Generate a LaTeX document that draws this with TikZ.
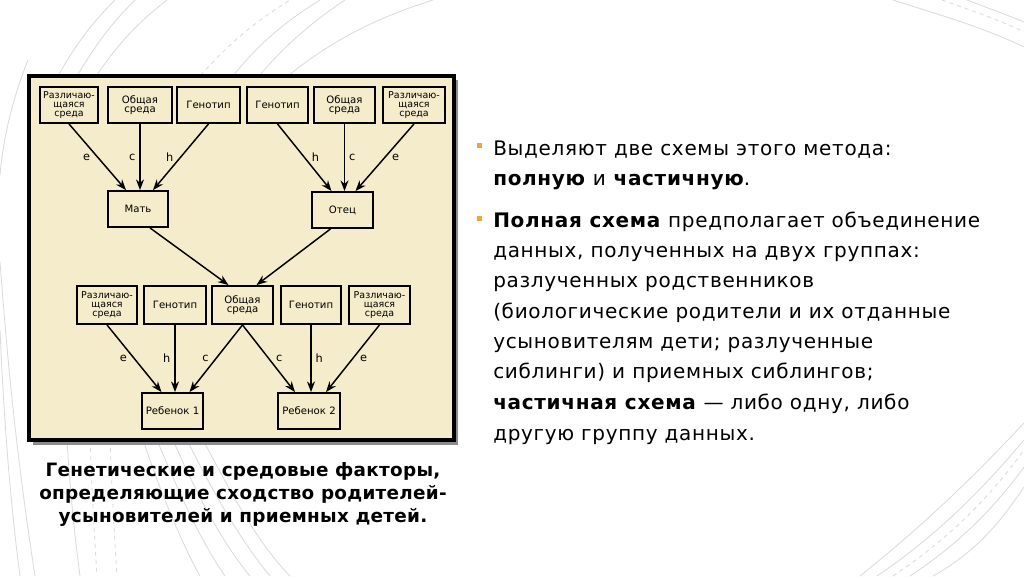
\documentclass[tikz,border=0pt]{standalone}
\usepackage{fontspec}
\setmainfont{DejaVu Sans}
\newfontfamily\bodyfont[LetterSpace=3.4]{DejaVu Sans}
\newfontfamily\capfont[LetterSpace=1.5]{DejaVu Sans}
\usetikzlibrary{arrows.meta,calc}
\definecolor{cream}{RGB}{245,236,203}
\definecolor{bulcol}{RGB}{242,163,60}
\definecolor{decocol}{RGB}{218,218,218}
\begin{document}
\begin{tikzpicture}[x=0.75pt,y=-0.75pt,
  deco/.style={draw=decocol,line width=0.6pt},
  dbox/.style={draw=black,line width=1.4pt,fill=cream,inner sep=0pt,align=center,
     font=\fontsize{7.6pt}{7.1pt}\selectfont,minimum height=27pt},
  tbox/.style={dbox,font=\fontsize{7.1pt}{7.1pt}\selectfont},
  arr/.style={line width=1.1pt,-{Stealth[length=8pt,width=6pt]}},
  lab/.style={font=\fontsize{8.5pt}{8.5pt}\selectfont,inner sep=2pt},
  bodytxt/.style={anchor=base west,inner sep=0pt,font=\fontsize{15pt}{17pt}\bodyfont},
  captxt/.style={anchor=base,inner sep=0pt,font=\fontsize{13.8pt}{15pt}\capfont\bfseries},
  bullet/.style={fill=bulcol,draw=none}
]
\useasboundingbox (0,0) rectangle (1024,576);
\fill[white] (0,0) rectangle (1024,576);

% background decoration arcs
\draw[deco] (40,110) .. controls (70,50) and (90,25) .. (115,0);
\draw[deco] (58,110) .. controls (90,50) and (110,25) .. (135,0);
\draw[deco] (75,110) .. controls (110,50) and (135,25) .. (167,0);
\draw[deco,dashed] (180,100) .. controls (220,50) and (250,25) .. (290,0);
\draw[deco] (215,100) .. controls (250,50) and (280,25) .. (320,0);
\draw[deco] (240,100) .. controls (270,60) and (300,30) .. (345,0);
\draw[deco] (260,100) .. controls (320,45) and (370,20) .. (433,0);
\draw[deco] (893,0) .. controls (940,15) and (985,28) .. (1024,47);
\draw[deco,dashed] (942,0) .. controls (970,10) and (1000,20) .. (1024,32);
\draw[deco] (967,0) .. controls (985,7) and (1005,14) .. (1024,22);
\draw[deco] (860,576) .. controls (930,520) and (980,470) .. (1024,423);
\draw[deco] (877,576) .. controls (945,530) and (990,480) .. (1024,440);
\draw[deco,dashed] (893,576) .. controls (955,535) and (995,490) .. (1024,450);
\draw[deco] (910,576) .. controls (965,540) and (1000,500) .. (1024,467);
\draw[deco] (933,576) .. controls (980,550) and (1005,515) .. (1024,487);
\draw[deco] (28,60) .. controls (12,100) and (3,140) .. (0,175);
\draw[deco] (0,262) .. controls (6,340) and (14,440) .. (35,576);
\draw[deco] (0,330) .. controls (4,420) and (10,500) .. (20,576);
\draw[deco] (67,440) .. controls (70,490) and (74,530) .. (80,576);
\draw[deco,dashed] (90,440) .. controls (92,490) and (94,530) .. (97,576);
\draw[deco,dashed] (110,440) .. controls (112,490) and (114,530) .. (117,576);
\draw[deco] (143,440) .. controls (160,490) and (180,540) .. (200,576);
\draw[deco] (157,440) .. controls (178,490) and (200,540) .. (225,576);
\draw[deco] (173,440) .. controls (195,490) and (220,540) .. (250,576);
\draw[deco] (187,440) .. controls (212,490) and (240,540) .. (270,576);
\draw[deco] (203,440) .. controls (230,490) and (255,540) .. (290,576);

% frame with shadow
\fill[black!45] (33,80) rectangle (458,445);
\filldraw[fill=cream,draw=black,line width=2.8pt] (29,76) rectangle (454,440);

% top row
\node[tbox,minimum width=43.5pt] (b1) at (69,105) {Различаю-\\щаяся\\среда};
\node[dbox,minimum width=48pt] (b2) at (140,105) {Общая\\среда};
\node[dbox,minimum width=47pt] (b3) at (208.5,105) {Генотип};
\node[dbox,minimum width=46pt] (b4) at (277.5,105) {Генотип};
\node[dbox,minimum width=46pt] (b5) at (344.5,105) {Общая\\среда};
\node[tbox,minimum width=46.5pt] (b6) at (414,105) {Различаю-\\щаяся\\среда};
% parents
\node[dbox,minimum width=45pt] (m) at (138,209) {Мать};
\node[dbox,minimum width=46pt] (f) at (342.5,210) {Отец};
% third row
\node[tbox,minimum width=45pt,minimum height=28.5pt] (r1) at (107,305) {Различаю-\\щаяся\\среда};
\node[dbox,minimum width=46.5pt,minimum height=28.5pt] (r2) at (175,305) {Генотип};
\node[dbox,minimum width=46pt,minimum height=28.5pt] (r3) at (242.5,305) {Общая\\среда};
\node[dbox,minimum width=45pt,minimum height=28.5pt] (r4) at (311,305) {Генотип};
\node[tbox,minimum width=46pt,minimum height=28.5pt] (r5) at (379.5,305) {Различаю-\\щаяся\\среда};
% children
\node[dbox,minimum width=46pt] (c1) at (172.5,411) {Ребенок 1};
\node[dbox,minimum width=46.5pt] (c2) at (309,411) {Ребенок 2};

% arrows to mother
\draw[arr] (b1.south) -- node[lab,left=3pt] {e} ($(m.north)+(-12,0)$);
\draw[arr] (b2.south) -- node[lab,left=1pt] {c} (b2.south |- m.north);
\draw[arr] (b3.south) -- node[lab,left=3pt] {h} ($(m.north)+(15,0)$);
% arrows to father
\draw[arr] (b4.south) -- node[lab,right=3pt] {h} ($(f.north)+(-11,0)$);
\draw[arr] (b5.south) -- node[lab,right=1pt] {c} (b5.south |- f.north);
\draw[arr] (b6.south) -- node[lab,right=3pt] {e} ($(f.north)+(13,0)$);
% parents to shared environment
\draw[arr] ($(m.south)+(12,0)$) -- ($(r3.north)+(-14,0)$);
\draw[arr] ($(f.south)+(-12,0)$) -- ($(r3.north)+(14,0)$);
% to child 1
\draw[arr] (r1.south) -- node[lab,left=3pt] {e} ($(c1.north)+(-11,0)$);
\draw[arr] (r2.south) -- node[lab,left=1pt] {h} (r2.south |- c1.north);
\draw[arr] (r3.south) -- node[lab,left=3pt] {c} ($(c1.north)+(17,0)$);
% to child 2
\draw[arr] (r3.south) -- node[lab,right=3pt] {c} ($(c2.north)+(-14,0)$);
\draw[arr] (r4.south) -- node[lab,right=1pt] {h} (r4.south |- c2.north);
\draw[arr] (r5.south) -- node[lab,right=3pt] {e} ($(c2.north)+(17,0)$);

% caption
\node[captxt] (cap1) at (243,476) {Генетические и средовые факторы,};
\node[captxt] (cap2) at (243,499) {определяющие сходство родителей-};
\node[captxt] (cap3) at (243,522) {усыновителей и приемных детей.};

% right text
\fill[bullet] (477,143) rectangle (482,148);
\fill[bullet] (477,216) rectangle (482,221);
\node[bodytxt] (t1) at (493,155) {Выделяют две схемы этого метода:};
\node[bodytxt] (t2) at (493,185) {\textbf{полную} и \textbf{частичную}.};
\node[bodytxt] (t3) at (493,227.5) {\textbf{Полная схема} предполагает объединение};
\node[bodytxt] (t4) at (493,257.5) {данных, полученных на двух группах:};
\node[bodytxt] (t5) at (493,287.5) {разлученных родственников};
\node[bodytxt] (t6) at (493,318) {(биологические родители и их отданные};
\node[bodytxt] (t7) at (493,348.5) {усыновителям дети; разлученные};
\node[bodytxt] (t8) at (493,378.5) {сиблинги) и приемных сиблингов;};
\node[bodytxt] (t9) at (493,409.5) {\textbf{частичная схема} — либо одну, либо};
\node[bodytxt] (t10) at (493,440) {другую группу данных.};
\end{tikzpicture}
\end{document}
